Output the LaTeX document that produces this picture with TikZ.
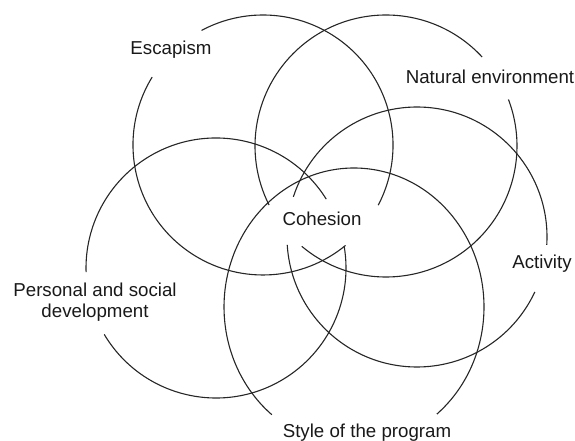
\documentclass[tikz,border=0pt]{standalone}
\usepackage{fontspec}
\setmainfont{Liberation Sans}
\begin{document}
\begin{tikzpicture}[x=1pt,y=1pt,
  ring/.style={draw=black!85,line width=1.1pt},
  lbl/.style={inner sep=0pt,font=\fontsize{18.7}{21.5}\selectfont,text=black!90}]
\useasboundingbox (0,0) rectangle (575,441);
\coordinate (c1) at (263,296);
\coordinate (c2) at (386,295);
\coordinate (c3) at (417,204);
\coordinate (c4) at (354,134);
\coordinate (c5) at (216,173);
% circle 1 (Escapism)
\draw[ring] (c1) ++(148.5:130) arc[start angle=148.5,end angle=309.4,radius=130];
\draw[ring] (c1) ++(332.4:130) arc[start angle=332.4,end angle=478.2,radius=130];
% circle 2 (Natural environment)
\draw[ring] (c2) ++(42.8:131) arc[start angle=42.8,end angle=206.8,radius=131];
\draw[ring] (c2) ++(230:131) arc[start angle=230,end angle=380.8,radius=131];
% circle 3 (Activity)
\draw[ring] (c3) ++(-3.5:130) arc[start angle=-3.5,end angle=162,radius=130];
\draw[ring] (c3) ++(183.5:130) arc[start angle=183.5,end angle=335,radius=130];
% circle 4 (Style of the program)
\draw[ring] (c4) ++(309.6:130 and 139) arc[start angle=309.6,end angle=590.8,x radius=130,y radius=139];
% circle 5 (Personal and social development)
\draw[ring] (c5) ++(32:130) arc[start angle=32,end angle=181.8,radius=130];
\draw[ring] (c5) ++(210.7:130) arc[start angle=210.7,end angle=369.7,radius=130];
% labels
\node[lbl] (esc) at (171,391) {Escapism};
\node[lbl] (nat) at (490,364) {Natural environment};
\node[lbl] (act) at (542,177) {Activity};
\node[lbl,align=center] (per) at (95,139) {Personal and social\\development};
\node[lbl] (sty) at (367,8) {Style of the program};
\node[lbl] (coh) at (322,222) {Cohesion};
\end{tikzpicture}
\end{document}
